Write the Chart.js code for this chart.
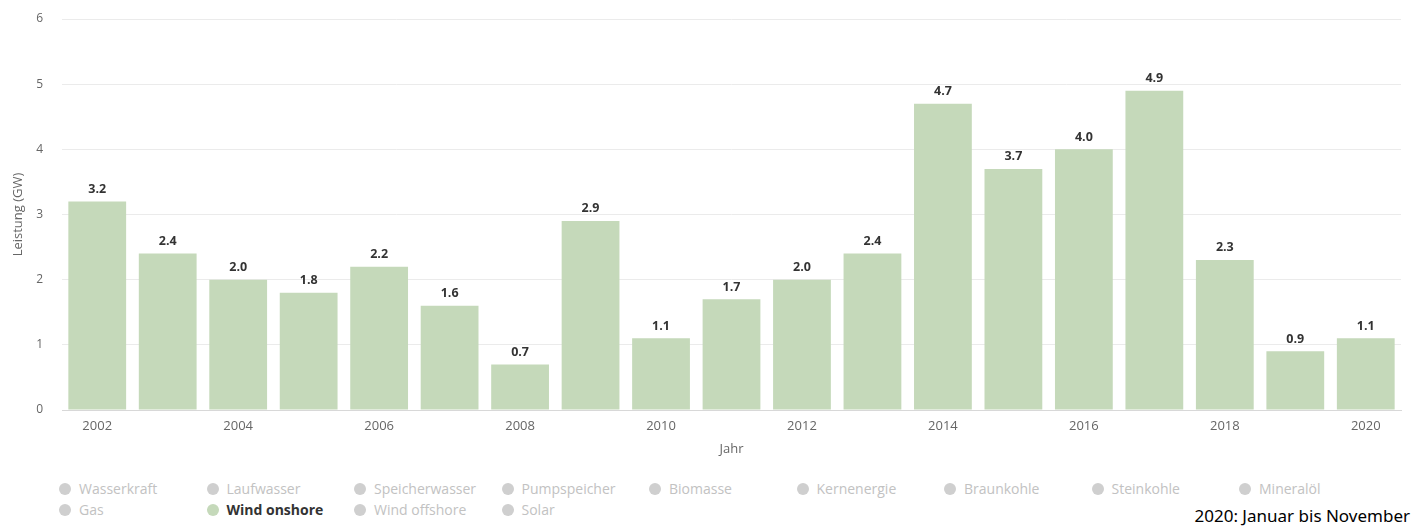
<!DOCTYPE html>
<html>
<head>
<meta charset="utf-8">
<script src="https://cdn.jsdelivr.net/npm/chart.js@4.4.0/dist/chart.umd.min.js"></script>
<style>
  body { margin: 0; background: #fff; width: 1418px; height: 529px; overflow: hidden; position: relative; }
  .chart-box { position: absolute; left: 0; top: 0; width: 1418px; height: 465px; }
  .legend { position: absolute; left: 0; top: 480px; width: 1418px; font-family: "Open Sans", sans-serif; font-size: 14px; color: #c2c2c2; }
  .legend span { position: absolute; white-space: nowrap; line-height: 18px; }
  .legend span i { position: absolute; left: -20px; top: 3px; width: 12px; height: 12px; border-radius: 50%; background: #cfcfcf; }
  .legend span.on { color: #333; font-weight: bold; }
  .legend span.on i { background: #c5d9ba; }
  .note { position: absolute; right: 8px; top: 504px; font-family: "Noto Sans", sans-serif; font-size: 17px; color: #000; }
</style>
</head>
<body>
<div class="chart-box"><canvas id="wind"></canvas></div>
<div class="legend" id="legend"></div>
<div class="note">2020: Januar bis November</div>
<script>
const years = ['2002','2003','2004','2005','2006','2007','2008','2009','2010','2011','2012','2013','2014','2015','2016','2017','2018','2019','2020'];
const leistung = [3.2, 2.4, 2.0, 1.8, 2.2, 1.6, 0.7, 2.9, 1.1, 1.7, 2.0, 2.4, 4.7, 3.7, 4.0, 4.9, 2.3, 0.9, 1.1];
const legendNames = ['Wasserkraft','Laufwasser','Speicherwasser','Pumpspeicher','Biomasse','Kernenergie','Braunkohle','Steinkohle','Mineralöl','Gas','Wind onshore','Wind offshore','Solar'];
const activeName = 'Wind onshore';

// legend like the original page, 9 per row
const legendEl = document.getElementById('legend');
legendNames.forEach(function(name, i) {
  const s = document.createElement('span');
  s.style.left = (79 + (i % 9) * 147.5) + 'px';
  s.style.top = (Math.floor(i / 9) * 21) + 'px';
  if (name === activeName) s.className = 'on';
  s.innerHTML = '<i></i>' + name;
  legendEl.appendChild(s);
});

// value labels above the bars
const valueLabels = {
  id: 'valueLabels',
  afterDatasetsDraw(chart) {
    const ctx = chart.ctx;
    ctx.save();
    ctx.font = 'bold 12.5px "Open Sans"';
    ctx.fillStyle = '#333';
    ctx.textAlign = 'center';
    ctx.textBaseline = 'bottom';
    chart.getDatasetMeta(0).data.forEach(function(bar, i) {
      ctx.fillText(leistung[i].toFixed(1), bar.x, bar.y - 6);
    });
    ctx.restore();
  }
};

const ctx = document.getElementById('wind').getContext('2d');
const wind = new Chart(ctx, {
  type: 'bar',
  data: {
    labels: years,
    datasets: [{
      label: activeName,
      data: leistung,
      backgroundColor: '#c5d9ba',
      categoryPercentage: 1,
      barPercentage: 0.82
    }]
  },
  options: {
    responsive: true,
    maintainAspectRatio: false,
    animation: false,
    layout: { padding: { top: 0, right: 17, bottom: 0, left: 0 } },
    plugins: {
      legend: { display: false },
      tooltip: { enabled: false }
    },
    scales: {
      x: {
        grid: { display: false, drawTicks: false },
        border: { display: true, color: '#d8d8d8' },
        ticks: {
          autoSkip: false,
          maxRotation: 0,
          padding: 8,
          color: '#666',
          font: { family: 'Open Sans', size: 13 },
          callback: function(v, i) { return i % 2 === 0 ? years[i] : ''; }
        },
        title: {
          display: true,
          text: 'Jahr',
          color: '#666',
          font: { family: 'Open Sans', size: 13 },
          padding: { top: 0, bottom: 8 }
        },
        afterFit: function(scale) {
          scale.height = 55;
          scale.paddingTop = 0;
          scale.paddingBottom = 0;
        }
      },
      y: {
        min: 0,
        max: 6,
        grid: { color: '#ebebeb', drawTicks: false },
        border: { display: false },
        ticks: {
          stepSize: 1,
          padding: 19,
          color: '#666',
          font: { family: 'Open Sans', size: 12 }
        },
        title: {
          display: true,
          text: 'Leistung (GW)',
          color: '#666',
          font: { family: 'Open Sans', size: 13 },
          padding: { top: 10, bottom: 0 }
        },
        afterFit: function(scale) {
          scale.width = 62;
          scale.paddingTop = 19;
          scale.paddingBottom = 0;
        }
      }
    }
  },
  plugins: [valueLabels]
});
</script>
</body>
</html>
